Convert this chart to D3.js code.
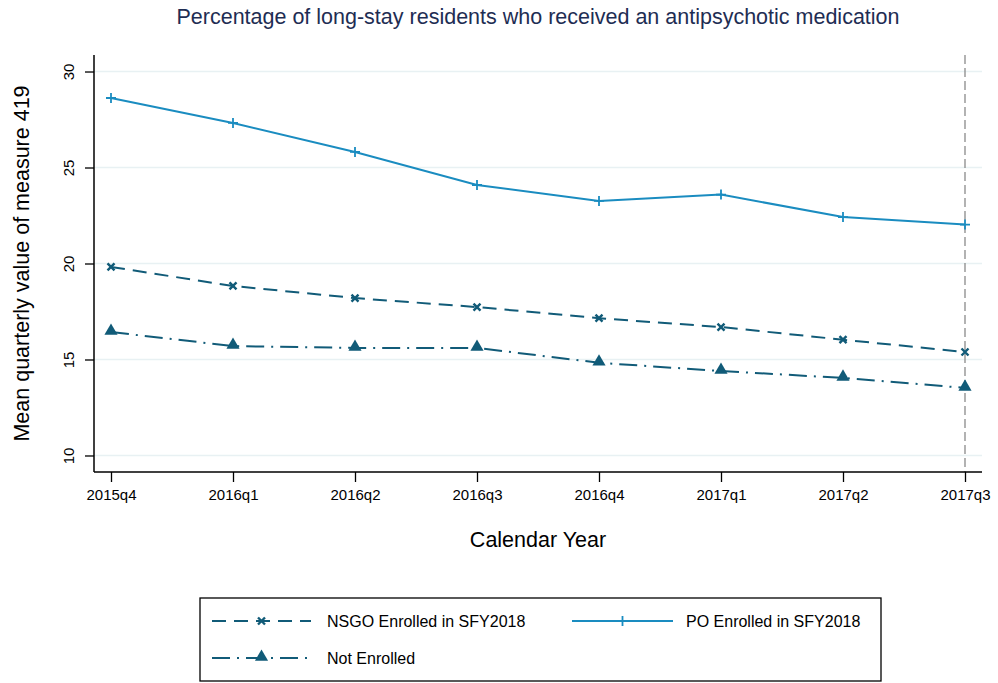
<!DOCTYPE html>
<html>
<head>
<meta charset="utf-8">
<script src="https://cdn.jsdelivr.net/npm/d3@7"></script>
<style>
  html, body { margin: 0; padding: 0; background: #fff; overflow: hidden; }
  svg { display: block; }
  text { font-family: "Liberation Sans", Arial, sans-serif; }
</style>
</head>
<body>
<svg id="mainsvg" width="998" height="683"></svg>
<script>
const quarters = ['2015q4', '2016q1', '2016q2', '2016q3', '2016q4', '2017q1', '2017q2', '2017q3'];
const poValues = [28.62, 27.32, 25.81, 24.09, 23.26, 23.59, 22.42, 22.03];
const nsgoValues = [19.82, 18.83, 18.20, 17.73, 17.15, 16.69, 16.03, 15.39];
const notEnrolledValues = [16.43, 15.70, 15.60, 15.60, 14.83, 14.40, 14.04, 13.52];
const yTicks = [10, 15, 20, 25, 30];

const svg = d3.select('#mainsvg');
const margin = {top: 55, right: 16, bottom: 211, left: 94};
const width = +svg.attr('width');
const height = +svg.attr('height');
const innerWidth = width - margin.left - margin.right;
const innerHeight = height - margin.top - margin.bottom;

const lightBlue = '#1a8cc0';
const darkTeal = '#115b78';

const g = svg.append('g').attr('transform', `translate(${margin.left}, ${margin.top})`);

const xScale = d3.scalePoint()
  .domain(quarters)
  .range([17, innerWidth - 17]);

const yScale = d3.scaleLinear()
  .domain([9.14, 30.86])
  .range([innerHeight, 0]);

// gridlines
g.selectAll('.grid')
  .data(yTicks)
  .join('line')
  .attr('x1', 0).attr('x2', innerWidth)
  .attr('y1', d => yScale(d)).attr('y2', d => yScale(d))
  .attr('stroke', '#e8f1f3')
  .attr('stroke-width', 1.5);

// reference line at last quarter
g.append('line')
  .attr('x1', xScale('2017q3')).attr('x2', xScale('2017q3'))
  .attr('y1', 0).attr('y2', innerHeight)
  .attr('stroke', '#8a8a8a')
  .attr('stroke-width', 1.3)
  .attr('stroke-dasharray', '9,4');

// axes
const yAxis = g.append('g')
  .call(d3.axisLeft(yScale).tickValues(yTicks).tickSize(9).tickPadding(6));
yAxis.attr('font-size', null).attr('font-family', null);
yAxis.select('.domain').attr('d', `M0,0V${innerHeight}`).attr('stroke', '#000').attr('stroke-width', 1.5);
yAxis.selectAll('.tick line').attr('stroke', '#000').attr('stroke-width', 1.3);
yAxis.selectAll('.tick text')
  .attr('transform', 'rotate(-90)')
  .attr('x', 0).attr('y', -25)
  .attr('dy', '0.35em')
  .style('text-anchor', 'middle')
  .style('font-size', '15px')
  .attr('fill', '#000');

const xAxis = g.append('g')
  .attr('transform', `translate(0, ${innerHeight})`)
  .call(d3.axisBottom(xScale).tickSize(10).tickPadding(7));
xAxis.attr('font-size', null).attr('font-family', null);
xAxis.select('.domain').attr('d', `M0,0H${innerWidth}`).attr('stroke', '#000').attr('stroke-width', 1.5);
xAxis.selectAll('.tick line').attr('stroke', '#000').attr('stroke-width', 1.3);
xAxis.selectAll('.tick text').style('font-size', '15px').attr('fill', '#000');

// series
const series = [
  {name: 'NSGO Enrolled in SFY2018', values: nsgoValues, color: darkTeal, dash: '14,8', marker: 'x'},
  {name: 'PO Enrolled in SFY2018', values: poValues, color: lightBlue, dash: null, marker: 'plus'},
  {name: 'Not Enrolled', values: notEnrolledValues, color: darkTeal, dash: '18,7,2,7', marker: 'tri'}
];

const line = d3.line()
  .x((d, i) => xScale(quarters[i]))
  .y(d => yScale(d));

function drawMarker(sel, type, color) {
  if (type === 'plus') {
    sel.append('path').attr('d', 'M-5,0H5M0,-5V5')
      .attr('stroke', color).attr('stroke-width', 1.8).attr('fill', 'none');
  } else if (type === 'x') {
    sel.append('path').attr('d', 'M-3.5,-3.5L3.5,3.5M-3.5,3.5L3.5,-3.5')
      .attr('stroke', color).attr('stroke-width', 2.4).attr('fill', 'none');
  } else {
    sel.append('path').attr('d', d3.symbol(d3.symbolTriangle, 75)())
      .attr('transform', 'translate(0,-1)')
      .attr('fill', color);
  }
}

series.forEach(s => {
  g.append('path')
    .attr('d', line(s.values))
    .attr('fill', 'none')
    .attr('stroke', s.color)
    .attr('stroke-width', 2)
    .attr('stroke-dasharray', s.dash);
  s.values.forEach((v, i) => {
    const m = g.append('g').attr('transform', `translate(${xScale(quarters[i])}, ${yScale(v)})`);
    drawMarker(m, s.marker, s.color);
  });
});

// title
svg.append('text')
  .attr('x', margin.left + innerWidth / 2)
  .attr('y', 24)
  .style('text-anchor', 'middle')
  .style('font-size', '21.5px')
  .attr('fill', '#1e2d53')
  .text('Percentage of long-stay residents who received an antipsychotic medication');

// axis titles
svg.append('text')
  .attr('transform', 'rotate(-90)')
  .attr('x', -(margin.top + innerHeight / 2))
  .attr('y', 29)
  .style('text-anchor', 'middle')
  .style('font-size', '21.5px')
  .attr('fill', '#000')
  .text('Mean quarterly value of measure 419');

svg.append('text')
  .attr('x', margin.left + innerWidth / 2)
  .attr('y', 547)
  .style('text-anchor', 'middle')
  .style('font-size', '21.5px')
  .attr('fill', '#000')
  .text('Calendar Year');

// legend
const legend = svg.append('g');
legend.append('rect')
  .attr('x', 200).attr('y', 598)
  .attr('width', 681).attr('height', 83)
  .attr('fill', '#fff')
  .attr('stroke', '#000')
  .attr('stroke-width', 1.3);

const legendPos = [
  {x: 212, y: 621, w: 99, tx: 327},
  {x: 572, y: 621, w: 101, tx: 686},
  {x: 212, y: 658, w: 99, tx: 327}
];

series.forEach((s, i) => {
  const p = legendPos[i];
  legend.append('line')
    .attr('x1', p.x).attr('x2', p.x + p.w)
    .attr('y1', p.y).attr('y2', p.y)
    .attr('stroke', s.color)
    .attr('stroke-width', 2)
    .attr('stroke-dasharray', s.dash);
  const m = legend.append('g').attr('transform', `translate(${p.x + p.w / 2}, ${p.y})`);
  drawMarker(m, s.marker, s.color);
  legend.append('text')
    .attr('x', p.tx).attr('y', p.y)
    .attr('dy', '0.35em')
    .style('font-size', '16px')
    .attr('fill', '#000')
    .text(s.name);
});
</script>
</body>
</html>
